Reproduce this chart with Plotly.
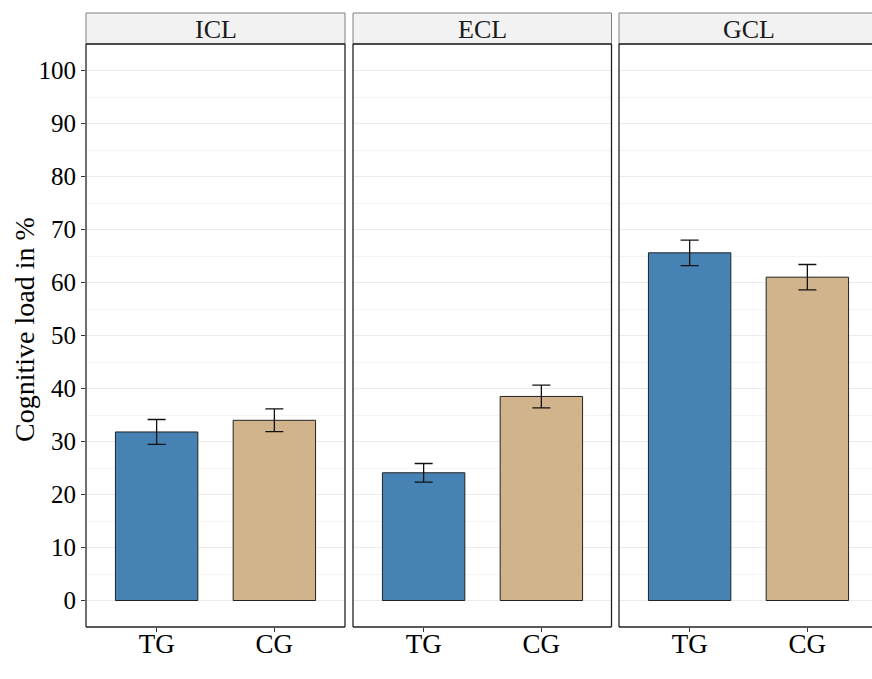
import plotly.graph_objects as go

# ---- data ----
facets = ["ICL", "ECL", "GCL"]
groups = ["TG", "CG"]
means = {
    "ICL": [31.8, 34.0],
    "ECL": [24.1, 38.5],
    "GCL": [65.6, 61.0],
}
errors = {
    "ICL": [2.35, 2.15],
    "ECL": [1.75, 2.15],
    "GCL": [2.4, 2.4],
}
bar_colors = ["#4682B4", "#D2B48C"]
y_ticks = [0, 10, 20, 30, 40, 50, 60, 70, 80, 90, 100]

W, H = 872, 679
FONT = "Liberation Serif"

# panel pixel geometry
panels_px = [(86, 345), (353, 611.5), (619, 872)]
top_px, bot_px = 44, 627
strip_top = 13
px_per_unit = (345 - 86) / 2.2

def px(x):
    return x / W

def py(y):
    return 1 - y / H

fig = go.Figure()
shapes = []
annotations = []

for i, f in enumerate(facets):
    n = "" if i == 0 else str(i + 1)
    x0, x1 = panels_px[i]
    fig.add_trace(go.Bar(
        x=groups, y=means[f],
        marker=dict(color=bar_colors, line=dict(color="#222222", width=1)),
        width=0.7,
        error_y=dict(type="data", array=errors[f], color="#111111", thickness=1.3, width=9),
        xaxis="x" + n, yaxis="y" + n, showlegend=False,
    ))
    upper = -0.6 + (x1 - x0) / px_per_unit
    fig.layout["xaxis" + n] = dict(
        domain=[px(x0), px(x1)], anchor="y" + n,
        range=[-0.6, upper], type="category",
        ticks="outside", ticklen=4, tickcolor="#333333",
        ticklabelstandoff=-11,
        tickfont=dict(family=FONT, size=27, color="black"),
        showgrid=False, zeroline=False, showline=False, fixedrange=True,
    )
    fig.layout["yaxis" + n] = dict(
        domain=[py(bot_px), py(top_px)], anchor="x" + n,
        range=[-5, 105], tickvals=y_ticks,
        showticklabels=(i == 0),
        ticks="outside" if i == 0 else "", ticklen=4, tickcolor="#333333",
        tickfont=dict(family=FONT, size=25, color="black"),
        showgrid=True, gridcolor="#EBEBEB", gridwidth=1,
        minor=dict(dtick=10, tick0=5, showgrid=True, gridcolor="#F4F4F4", gridwidth=0.6),
        zeroline=False, showline=False, fixedrange=True,
    )
    # strip
    shapes.append(dict(type="rect", xref="paper", yref="paper",
                       x0=px(x0), x1=px(x1 if i < 2 else x1 + 5), y0=py(top_px), y1=py(strip_top),
                       fillcolor="#F2F2F2", line=dict(color="#808080", width=1), layer="above"))
    annotations.append(dict(text=f, xref="paper", yref="paper",
                            x=px((x0 + x1) / 2 if i < 2 else (x0 + 878) / 2), y=py((strip_top + top_px) / 2 + 1.5),
                            showarrow=False, font=dict(family=FONT, size=26, color="#1a1a1a"),
                            xanchor="center", yanchor="middle"))
    # panel border
    lc = dict(color="#222222", width=1.3)
    shapes.append(dict(type="line", xref="paper", yref="paper", x0=px(x0), x1=px(x0),
                       y0=py(bot_px), y1=py(top_px), line=lc, layer="above"))
    shapes.append(dict(type="line", xref="paper", yref="paper", x0=px(x0), x1=px(x1 if i < 2 else x1 + 5),
                       y0=py(bot_px), y1=py(bot_px), line=lc, layer="above"))
    shapes.append(dict(type="line", xref="paper", yref="paper", x0=px(x0), x1=px(x1 if i < 2 else x1 + 5),
                       y0=py(top_px), y1=py(top_px), line=lc, layer="above"))
    if i < 2:
        shapes.append(dict(type="line", xref="paper", yref="paper", x0=px(x1), x1=px(x1),
                           y0=py(bot_px), y1=py(top_px), line=lc, layer="above"))

annotations.append(dict(text="Cognitive load in %", xref="paper", yref="paper",
                        x=px(24), y=py(330), textangle=-90,
                        showarrow=False, font=dict(family=FONT, size=28, color="black"),
                        xanchor="center", yanchor="middle"))

fig.update_layout(
    width=W, height=H,
    margin=dict(l=0, r=0, t=0, b=0),
    paper_bgcolor="white", plot_bgcolor="white",
    shapes=shapes, annotations=annotations,
    bargap=0.3,
)

fig.write_html("out.html")
